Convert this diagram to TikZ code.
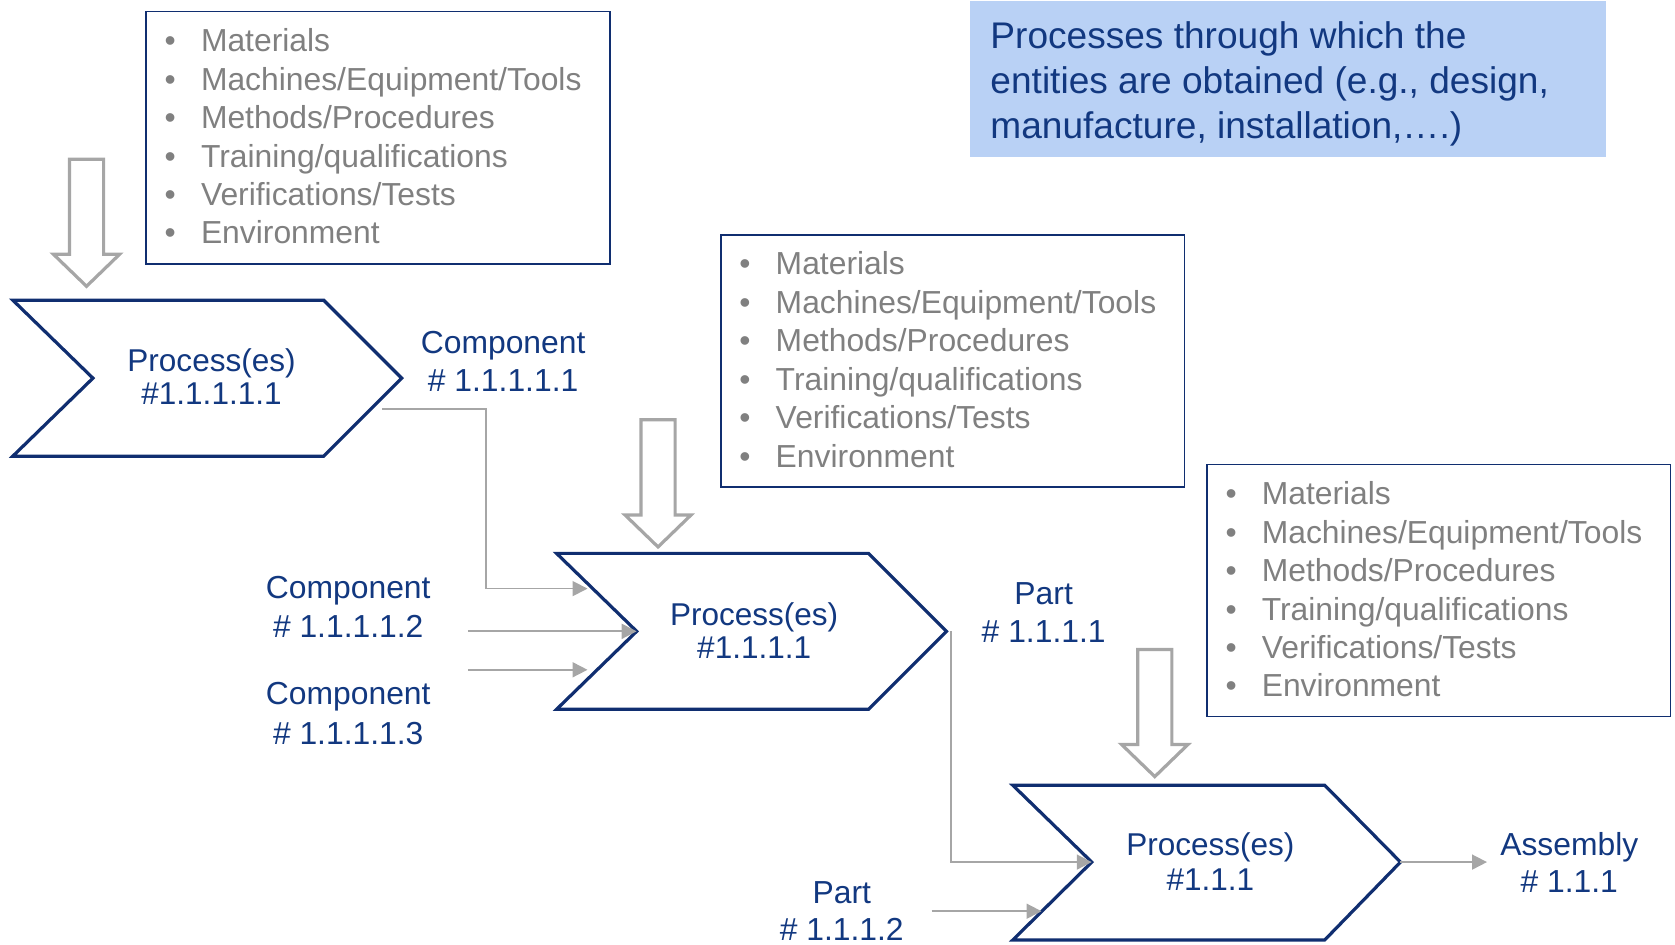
\documentclass[tikz,border=0pt]{standalone}
\usepackage{fontspec}
\setmainfont{Liberation Sans}
\usetikzlibrary{arrows.meta}

\definecolor{navy}{RGB}{16,46,112}
\definecolor{navytext}{RGB}{18,56,128}
\definecolor{listgray}{RGB}{128,128,128}
\definecolor{linegray}{RGB}{166,166,166}
\definecolor{notefill}{RGB}{185,209,245}

% bullet of the requirement lists
\newcommand\bul{\makebox[34pt][l]{\textbullet}}
% six-item list of process inputs
\newcommand\reqlist{\begin{tabular}[t]{@{}l@{}}
\bul Materials\\
\bul Machines/Equipment/Tools\\
\bul Methods/Procedures\\
\bul Training/qualifications\\
\bul Verifications/Tests\\
\bul Environment
\end{tabular}}

\tikzset{
  chev/.style={draw=navy, line width=3pt, fill=white, line join=miter},
  reqbox/.style={draw=navy, line width=1.6pt, anchor=north west, inner sep=0pt},
  listtext/.style={anchor=base west, inner sep=0pt, text=listgray,
    font=\fontsize{29.8}{36}\selectfont},
  lbl/.style={anchor=base, inner sep=0pt, text=navytext},
  blockarrow/.style={draw=linegray, line width=3pt, fill=white, line join=miter},
  flow/.style={draw=linegray, line width=1.6pt,
    -{Triangle[length=14pt,width=14pt]}},
}

\begin{document}
\begin{tikzpicture}[x=1pt,y=-1pt]
\useasboundingbox (0,0) rectangle (1568,884);

% ---- note box
\node[fill=notefill, anchor=north west, minimum width=595, minimum height=146, inner sep=0pt] (note) at (908,1) {};
\node[anchor=base west, inner sep=0pt, text=navytext, font=\fontsize{34.7}{42}\selectfont] (notetext) at (927,45.5)
  {\begin{tabular}[t]{@{}l@{}}Processes through which the\\ entities are obtained (e.g., design,\\ manufacture, installation,….)\end{tabular}};

% ---- input lists
\node[reqbox, minimum width=434, minimum height=236] (box1) at (136,10) {};
\node[listtext] (list1) at (154,48.4) {\reqlist};
\node[reqbox, minimum width=434, minimum height=236] (box2) at (674,219) {};
\node[listtext] (list2) at (692,257.4) {\reqlist};
\node[reqbox, minimum width=434, minimum height=236] (box3) at (1129,434) {};
\node[listtext] (list3) at (1147,472.4) {\reqlist};

% ---- block arrows feeding the processes
\coordinate (in1) at (81,268);
\coordinate (in2) at (616,512);
\coordinate (in3) at (1081,727);
\foreach \t in {in1,in2,in3}
  \draw[blockarrow] (\t) -- ++(-31,-30) -- ++(15,0) -- ++(0,-89) -- ++(32,0)
    -- ++(0,89) -- ++(15,0) -- cycle;

% ---- process chevrons
\draw[chev] (12,281) -- ++(291,0) -- ++(73,73) coordinate (ch1tip)
  -- ++(-73,73) -- ++(-291,0) -- ++(75,-73) coordinate (ch1notch) -- cycle;
\draw[chev] (521,518) -- ++(292,0) -- ++(73,73) coordinate (ch2tip)
  -- ++(-73,73) -- ++(-292,0) -- ++(75,-73) coordinate (ch2notch) -- cycle;
\draw[chev] (948,735) -- ++(292,0) -- ++(71,72) coordinate (ch3tip)
  -- ++(-71,73) -- ++(-292,0) -- ++(74,-73) coordinate (ch3notch) -- cycle;

\node[lbl, font=\fontsize{29.5}{31}\selectfont] (p1) at (198,347.6)
  {\begin{tabular}[t]{@{}c@{}}Process(es)\\ \#1.1.1.1.1\end{tabular}};
\node[lbl, font=\fontsize{29.5}{31}\selectfont] (p2) at (706,585.6)
  {\begin{tabular}[t]{@{}c@{}}Process(es)\\ \#1.1.1.1\end{tabular}};
\node[lbl, font=\fontsize{29.5}{33}\selectfont] (p3) at (1133,800.6)
  {\begin{tabular}[t]{@{}c@{}}Process(es)\\ \#1.1.1\end{tabular}};

% ---- entity labels
\node[lbl, font=\fontsize{29.8}{36}\selectfont] (comp1) at (471,330.6)
  {\begin{tabular}[t]{@{}c@{}}Component\\ \# 1.1.1.1.1\end{tabular}};
\node[lbl, font=\fontsize{29.8}{36}\selectfont] (comp2) at (326,560.6)
  {\begin{tabular}[t]{@{}c@{}}Component\\ \# 1.1.1.1.2\end{tabular}};
\node[lbl, font=\fontsize{29.8}{37}\selectfont] (comp3) at (326,659.6)
  {\begin{tabular}[t]{@{}c@{}}Component\\ \# 1.1.1.1.3\end{tabular}};
\node[lbl, font=\fontsize{29.8}{36}\selectfont] (part1) at (977,565.6)
  {\begin{tabular}[t]{@{}c@{}}Part\\ \# 1.1.1.1\end{tabular}};
\node[lbl, font=\fontsize{29.8}{35}\selectfont] (part2) at (788,845.6)
  {\begin{tabular}[t]{@{}c@{}}Part\\ \# 1.1.1.2\end{tabular}};
\node[lbl, font=\fontsize{29.8}{35}\selectfont] (assy) at (1469,800.6)
  {\begin{tabular}[t]{@{}c@{}}Assembly\\ \# 1.1.1\end{tabular}};

% ---- flows between entities and processes
\coordinate (f1s) at (358,383);
\coordinate (f1e) at (550,551);
\coordinate (f2s) at (438,591);
\coordinate (f3s) at (438,627);
\coordinate (f3e) at (550,627);
\coordinate (f4s) at (890,591);
\coordinate (f5e) at (1392,807);
\coordinate (f6s) at (872,853);
\coordinate (f6e) at (975,853);

\draw[flow] (f1s) -| (455,551) -- (f1e);
\draw[flow] (f2s) -- (ch2notch);
\draw[flow] (f3s) -- (f3e);
\draw[flow] (f4s) |- (ch3notch);
\draw[flow] (ch3tip) -- (f5e);
\draw[flow] (f6s) -- (f6e);
\end{tikzpicture}
\end{document}
